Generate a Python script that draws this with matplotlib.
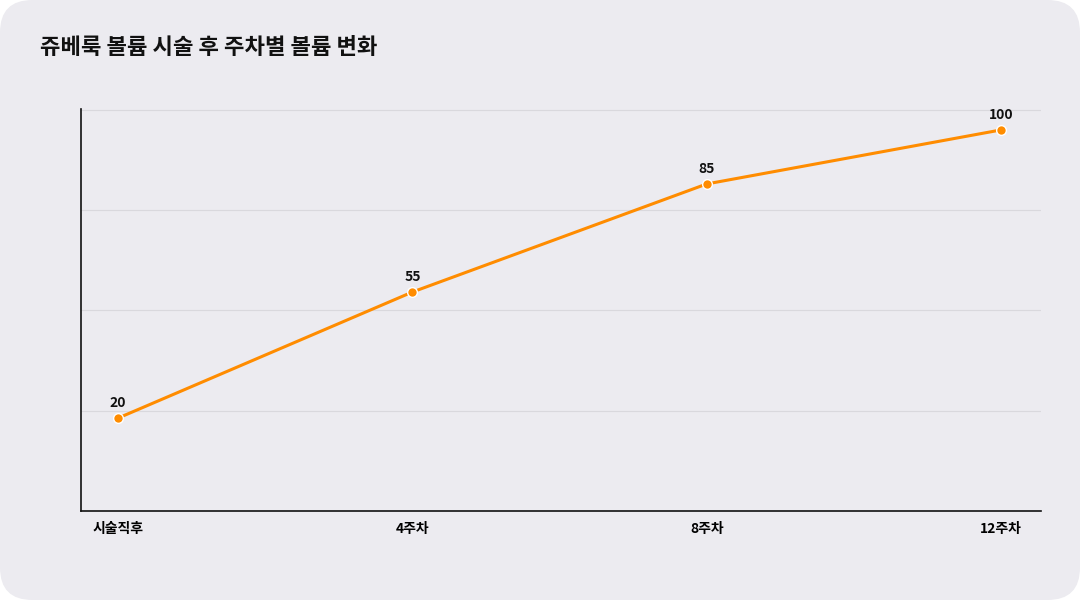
import matplotlib.pyplot as plt
from matplotlib.patches import FancyBboxPatch

plt.rcParams['font.family'] = ['Noto Sans CJK KR', 'DejaVu Sans']

categories = ["시술직후", "4주차", "8주차", "12주차"]
volume = [20, 55, 85, 100]

bg = "#ECEBF0"
line_color = "#FF8C00"

fig = plt.figure(figsize=(10.8, 6), dpi=100)
fig.patch.set_facecolor("white")
card = FancyBboxPatch((0, 0), 1, 1, boxstyle="round,pad=0,rounding_size=0.03",
                      transform=fig.transFigure, facecolor=bg, edgecolor="none",
                      mutation_aspect=1.8, zorder=-10)
fig.patches.append(card)

ax = fig.add_axes([0.075, 0.1483, 0.889, 0.67])
ax.set_zorder(5)
ax.set_facecolor(bg)
x = list(range(len(categories)))
ax.plot(x, volume, color=line_color, lw=2.2, marker="o", markersize=7,
        markerfacecolor=line_color, markeredgecolor="white", markeredgewidth=1)
for xi, v in zip(x, volume):
    ax.text(xi, v + 2.2, str(v), ha="center", va="bottom", fontsize=10,
            fontweight="bold", color="#111111")

ax.set_xlim(-0.126, 3.136)
ax.set_ylim(-5.8, 105.8)
ax.set_yticks([22.05, 49.9, 77.75, 105.6])
ax.set_yticklabels([])
ax.tick_params(axis="y", length=0)
ax.grid(axis="y", color="#D9D8DD", lw=0.8)
ax.set_axisbelow(True)
ax.set_xticks(x)
ax.set_xticklabels(categories, fontsize=10, fontweight="bold")
ax.tick_params(axis="x", length=0, pad=8)
for s in ["top", "right"]:
    ax.spines[s].set_visible(False)
for s in ["left", "bottom"]:
    ax.spines[s].set_color("#111111")
    ax.spines[s].set_linewidth(1.2)

fig.text(40 / 1080, 1 - 47 / 600, "쥬베룩 볼륨 시술 후 주차별 볼륨 변화", fontsize=16,
         fontweight="bold", va="center", ha="left", color="#111111")

fig.savefig("out.png", dpi=100)
